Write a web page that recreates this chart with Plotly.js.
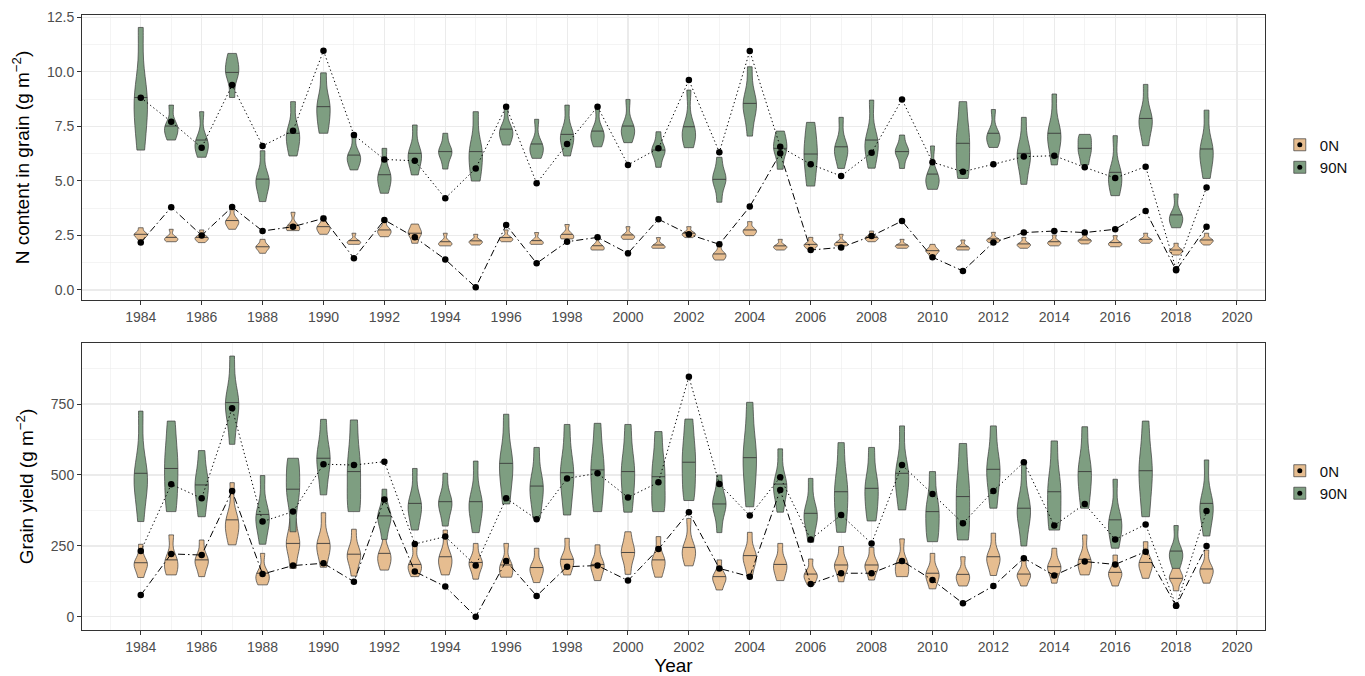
<!DOCTYPE html>
<html>
<head>
<meta charset="utf-8">
<script src="https://cdn.plot.ly/plotly-3.0.1.min.js"></script>
<style>html,body{margin:0;padding:0;background:#fff;}#chart{width:1365px;height:676px;}</style>
</head>
<body>
<div id="chart"></div>
<script>
// ---------------- data ----------------
const years = [1984,1985,1986,1987,1988,1989,1990,1991,1992,1993,1994,1995,1996,1997,1998,1999,2000,2001,2002,2003,2004,2005,2006,2007,2008,2009,2010,2011,2012,2013,2014,2015,2016,2017,2018,2019];
const treatments = ['0N', '90N'];

// N content in grain, 90N violins: min, max, median line, densest value
const n90_lo   = [6.41,6.87,6.08,8.82,4.05,6.14,7.18,5.50,4.43,5.27,5.54,4.99,6.64,6.03,6.14,6.56,6.75,5.62,6.52,4.02,7.05,5.53,4.76,5.57,5.58,5.57,4.61,5.11,6.53,4.84,5.73,5.73,4.32,6.61,2.85,5.11];
const n90_hi   = [12.03,8.47,8.17,10.84,6.38,8.63,9.95,7.18,6.49,7.56,7.18,8.17,8.47,7.82,8.47,8.43,8.73,7.25,9.16,6.08,10.23,7.28,7.68,7.91,8.70,7.10,6.60,8.63,8.27,7.91,8.98,7.13,7.07,9.42,4.40,8.24];
const n90_med  = [8.82,7.51,6.87,9.97,5.08,7.18,8.40,6.18,5.28,6.26,6.34,6.34,7.37,6.69,7.13,7.28,7.51,6.41,7.48,5.07,8.55,6.49,6.23,6.56,6.87,6.34,5.31,6.72,7.18,6.26,7.18,6.49,5.39,7.86,3.44,6.46];
const n90_peak = [7.80,7.20,6.56,10.40,5.08,6.70,7.80,5.95,5.30,6.26,6.34,5.65,7.18,6.41,6.87,7.00,7.25,6.34,7.18,5.20,8.50,6.30,5.65,6.41,6.50,6.34,5.04,5.80,6.95,5.95,6.87,6.87,4.89,7.80,3.36,5.95];
// N content in grain, 0N violins
const n0_lo    = [2.29,2.21,2.17,2.78,1.68,2.72,2.55,2.09,2.44,2.14,2.02,2.06,2.21,2.09,2.34,1.83,2.32,1.91,2.40,1.37,2.49,1.83,1.86,2.02,2.21,1.91,1.53,1.83,2.17,1.91,2.02,2.11,1.98,2.14,1.60,2.06];
const n0_hi    = [2.85,2.78,2.75,3.74,2.32,3.56,3.39,2.60,3.21,3.02,2.60,2.55,2.75,2.63,3.00,2.47,2.90,2.40,2.90,2.09,3.13,2.32,2.41,2.55,2.70,2.32,2.09,2.29,2.64,2.41,2.52,2.55,2.49,2.60,2.14,2.60];
const n0_med   = [2.55,2.41,2.41,3.18,1.98,2.95,2.90,2.26,2.75,2.60,2.21,2.25,2.40,2.26,2.55,2.02,2.52,2.06,2.60,1.65,2.75,2.02,2.09,2.17,2.41,2.06,1.80,1.98,2.34,2.11,2.21,2.29,2.17,2.32,1.83,2.29];
const n0_peak  = [2.50,2.32,2.37,3.13,1.91,2.90,2.75,2.17,2.60,2.75,2.14,2.17,2.32,2.21,2.52,1.98,2.44,2.02,2.52,1.65,2.63,1.95,2.02,2.14,2.35,1.98,1.83,1.95,2.29,2.06,2.17,2.26,2.14,2.29,1.80,2.26];
// N content in grain, black points
const n90_pt = [8.81,7.71,6.52,9.39,6.60,7.30,10.96,7.10,5.98,5.92,4.20,5.57,8.40,4.89,6.69,8.40,5.73,6.49,9.62,6.31,10.95,6.56,5.76,5.22,6.29,8.73,5.85,5.42,5.76,6.11,6.15,5.62,5.13,5.65,0.95,4.70];
const n0_pt  = [2.18,3.79,2.50,3.80,2.70,2.90,3.28,1.45,3.21,2.41,1.40,0.12,2.98,1.22,2.21,2.41,1.68,3.24,2.55,2.09,3.82,6.26,1.83,1.95,2.47,3.16,1.50,0.87,2.18,2.63,2.70,2.63,2.78,3.62,0.90,2.90];

// Grain yield, 90N violins
const y90_lo   = [336,371,353,608,256,300,430,371,273,306,320,297,398,347,359,371,369,371,410,297,388,369,263,298,338,377,265,271,383,250,306,383,242,353,171,285];
const y90_hi   = [725,690,586,919,498,559,696,694,450,523,506,549,714,597,678,682,678,653,697,500,756,592,488,614,597,673,512,611,673,541,620,670,485,690,322,553];
const y90_med  = [506,523,465,755,361,450,559,512,356,400,406,406,541,461,508,518,512,494,545,398,561,468,365,441,453,506,371,424,520,383,441,512,342,515,232,400];
const y90_peak = [480,447,424,740,353,420,588,565,353,400,406,406,565,482,541,565,553,541,600,400,611,471,353,482,482,518,400,482,553,377,482,541,306,565,224,388];
// Grain yield, 0N violins
const y0_lo    = [139,148,142,254,113,171,175,144,165,142,148,133,140,121,148,128,150,140,180,95,148,128,113,124,130,142,99,109,146,109,119,148,109,136,92,119];
const y0_hi    = [256,289,271,473,224,347,367,309,318,248,306,259,259,242,277,254,300,283,347,201,298,259,204,248,245,275,224,212,295,204,242,289,218,265,174,236];
const y0_med   = [191,201,201,342,154,259,259,221,224,185,212,192,183,174,203,185,227,201,245,142,216,185,151,183,183,189,154,150,212,151,177,203,157,192,136,169];
const y0_peak  = [183,201,189,330,148,236,242,212,212,183,207,189,183,171,201,189,212,201,236,140,201,189,148,183,183,189,154,148,201,148,171,201,148,189,130,165];
// Grain yield, black points
const y90_pt = [232,467,418,735,336,371,538,535,547,257,283,181,418,344,488,506,421,474,846,468,357,492,273,359,259,535,433,330,444,545,322,398,273,326,39,373];
const y0_pt  = [77,222,218,444,151,181,189,124,414,160,107,1,197,74,177,181,128,239,369,171,142,447,116,154,154,197,130,48,109,207,146,195,185,230,39,250];

// ---------------- styling ----------------
const FILL = {'0N': '#E6BD90', '90N': '#7E9E81'};
const EDGE = '#3A3A3A';
const FONT = 'Liberation Sans, Arial, sans-serif';
const DASH = {'90N': '1.3px,2.7px', '0N': '7px,3px,1.5px,3px'};

const traces = [];

function addViolins(lo, hi, med, peak, tr, xa, ya, leg) {
  years.forEach((yr, i) => {
    // sample set for the library's density estimate; mean sits on the median line
    let rest = 4 * med[i] - lo[i] - hi[i] - peak[i];
    rest = Math.min(hi[i], Math.max(lo[i], rest));
    const ys = [lo[i], peak[i], med[i], rest, hi[i]];
    traces.push({
      type: 'violin', x: ys.map(() => yr), y: ys, xaxis: xa, yaxis: ya,
      name: tr, legend: leg, showlegend: i === 0, legendgroup: leg + tr,
      width: 0.44, spanmode: 'hard', scalemode: 'width',
      bandwidth: (hi[i] - lo[i]) * 0.2,
      points: false, box: {visible: false},
      meanline: {visible: true, color: EDGE, width: 0.9},
      fillcolor: FILL[tr], opacity: 1,
      line: {color: EDGE, width: 0.7},
      hoverinfo: 'skip'
    });
  });
}

function addLine(pts, tr, xa, ya) {
  traces.push({
    type: 'scatter', mode: 'lines+markers', x: years, y: pts, xaxis: xa, yaxis: ya,
    name: tr, showlegend: false,
    line: {color: '#000', width: 1, dash: DASH[tr]},
    marker: {color: '#000', size: 6.5},
    hoverinfo: 'skip'
  });
}

function addLegendDot(tr, leg) {
  traces.push({
    type: 'scatter', mode: 'markers', x: [null], y: [null], xaxis: 'x', yaxis: 'y',
    name: tr, legend: leg, showlegend: true,
    marker: {color: '#000', size: 5}, hoverinfo: 'skip'
  });
}

addViolins(n0_lo, n0_hi, n0_med, n0_peak, '0N', 'x', 'y', 'legend');
addViolins(n90_lo, n90_hi, n90_med, n90_peak, '90N', 'x', 'y', 'legend');
addViolins(y0_lo, y0_hi, y0_med, y0_peak, '0N', 'x2', 'y2', 'legend2');
addViolins(y90_lo, y90_hi, y90_med, y90_peak, '90N', 'x2', 'y2', 'legend2');
addLine(n90_pt, '90N', 'x', 'y');
addLine(n0_pt, '0N', 'x', 'y');
addLine(y90_pt, '90N', 'x2', 'y2');
addLine(y0_pt, '0N', 'x2', 'y2');
treatments.forEach(t => addLegendDot(t, 'legend3'));
treatments.forEach(t => addLegendDot(t, 'legend4'));

const xBase = {
  range: [1982.07, 2020.92], tick0: 1984, dtick: 2,
  ticks: 'outside', ticklen: 4, tickwidth: 1, tickcolor: '#333',
  tickfont: {family: FONT, size: 14, color: '#4D4D4D'},
  showline: true, mirror: true, linecolor: '#333', linewidth: 1,
  showgrid: true, gridcolor: '#EBEBEB', gridwidth: 1.1,
  minor: {dtick: 1, showgrid: true, gridcolor: '#EBEBEB', gridwidth: 0.55},
  zeroline: false, fixedrange: true
};
const yBase = {
  ticks: 'outside', ticklen: 4, tickwidth: 1, tickcolor: '#333',
  tickfont: {family: FONT, size: 14, color: '#4D4D4D'},
  showline: true, mirror: true, linecolor: '#333', linewidth: 1,
  showgrid: true, gridcolor: '#EBEBEB', gridwidth: 1.1,
  zeroline: false, fixedrange: true
};
const legBase = {
  xanchor: 'left', yanchor: 'middle', x: 1.0125,
  bgcolor: 'rgba(0,0,0,0)', borderwidth: 0,
  font: {family: FONT, size: 15, color: '#111'},
  traceorder: 'normal', itemclick: false, itemdoubleclick: false
};
const legDot = Object.assign({}, legBase, {font: {family: FONT, size: 15, color: 'rgba(0,0,0,0)'}});

const layout = {
  width: 1365, height: 676,
  margin: {l: 82, r: 97, t: 15, b: 46},
  paper_bgcolor: '#fff', plot_bgcolor: '#fff',
  font: {family: FONT},
  violinmode: 'overlay', violingap: 0, violingroupgap: 0,
  hovermode: false,
  xaxis: Object.assign({}, xBase, {anchor: 'y', domain: [0, 1]}),
  xaxis2: Object.assign({}, xBase, {anchor: 'y2', domain: [0, 1],
    title: {text: 'Year', font: {family: FONT, size: 19, color: '#000'}, standoff: 4}}),
  yaxis: Object.assign({}, yBase, {anchor: 'x', domain: [0.5366, 1],
    range: [-0.46, 12.6], tick0: 0, dtick: 2.5, tickformat: '.1f',
    minor: {dtick: 1.25, showgrid: true, gridcolor: '#EBEBEB', gridwidth: 0.55},
    title: {text: 'N content in grain (g m<sup>\u22122</sup>)', font: {family: FONT, size: 19, color: '#000'}, standoff: 12}}),
  yaxis2: Object.assign({}, yBase, {anchor: 'x2', domain: [0, 0.4667],
    range: [-46, 965], tick0: 0, dtick: 250,
    minor: {dtick: 125, showgrid: true, gridcolor: '#EBEBEB', gridwidth: 0.55},
    title: {text: 'Grain yield (g m<sup>\u22122</sup>)', font: {family: FONT, size: 19, color: '#000'}, standoff: 12}}),
  legend: Object.assign({}, legBase, {y: 0.7707}),
  legend2: Object.assign({}, legBase, {y: 0.2407}),
  legend3: Object.assign({}, legDot, {y: 0.7707}),
  legend4: Object.assign({}, legDot, {y: 0.2407})
};

Plotly.newPlot('chart', traces, layout, {staticPlot: true, displayModeBar: false}).then(gd => {
  // median lines drawn solid, as in the reference
  gd.querySelectorAll('path.meanline, path.mean').forEach(p => { p.style.strokeDasharray = 'none'; });
});
</script>
</body>
</html>
